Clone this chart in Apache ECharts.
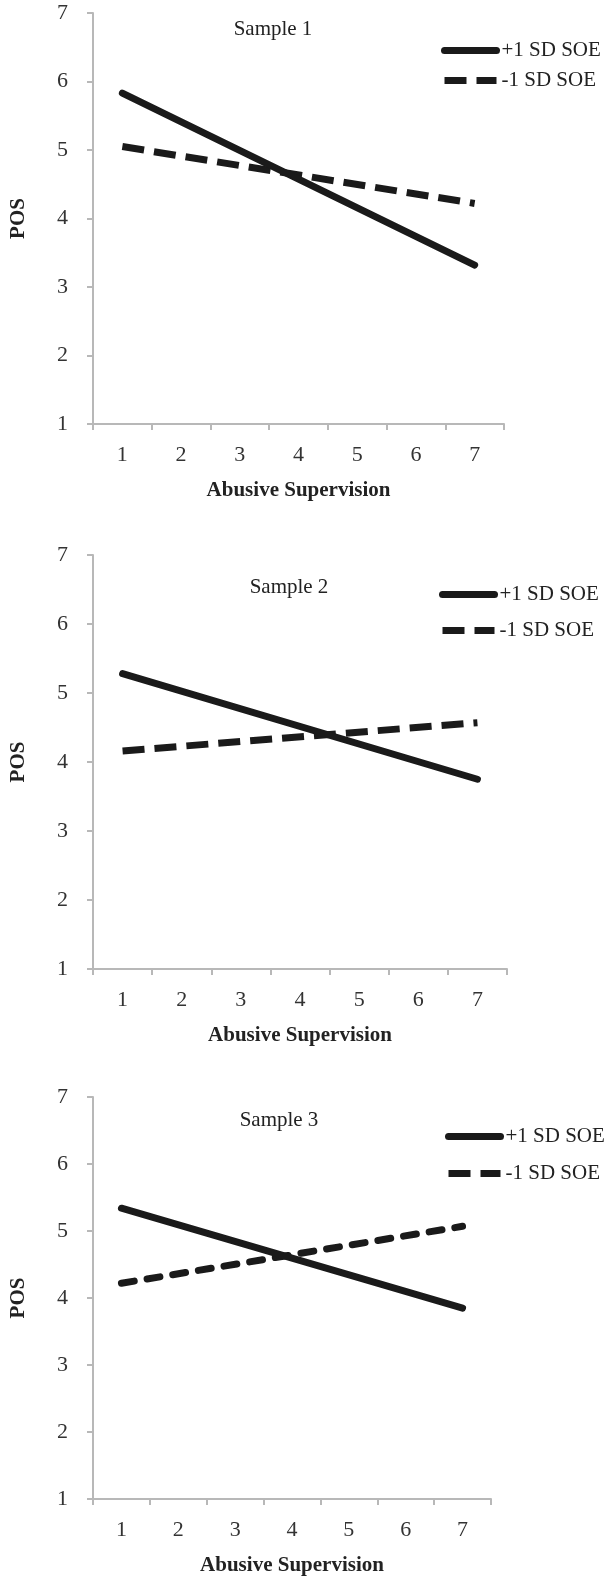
<!DOCTYPE html>
<html>
<head>
<meta charset="utf-8">
<script src="https://cdn.jsdelivr.net/npm/echarts@6/dist/echarts.min.js"></script>
<style>
html,body{margin:0;padding:0;background:#fff;}
#c{width:610px;height:1577px;}
</style>
</head>
<body>
<div id="c"></div>
<script>
// ---- data ----
const categories = ['1','2','3','4','5','6','7'];
const lineEndsX = ['1','7'];
const panelTitles = ['Sample 1','Sample 2','Sample 3'];
const seriesNames = ['+1 SD SOE','-1 SD SOE'];
const plusSOE_s1 = [5.83, 3.32];
const minusSOE_s1 = [5.05, 4.22];
const plusSOE_s2 = [5.28, 3.75];
const minusSOE_s2 = [4.16, 4.57];
const plusSOE_s3 = [5.34, 3.85];
const minusSOE_s3 = [4.22, 5.07];
const xAxisTitle = 'Abusive Supervision';
const yAxisTitle = 'POS';

const panels = [
  {plus: plusSOE_s1, minus: minusSOE_s1},
  {plus: plusSOE_s2, minus: minusSOE_s2},
  {plus: plusSOE_s3, minus: minusSOE_s3}
];

// ---- layout ----
const grids = [
  {left: 89.5, top: 13, width: 414.5, height: 411},
  {left: 91, top: 555, width: 416, height: 414},
  {left: 84, top: 1097, width: 407, height: 409}
];
const titlePos = [{x: 268, y: 14}, {x: 284, y: 572}, {x: 274, y: 1105}];
const legendPos = [{x: 436, y: 35, gap: 9}, {x: 434, y: 579, gap: 15}, {x: 440, y: 1121, gap: 16}];
const dashStyles = [
  {type: [22, 10], cap: 'butt'},
  {type: [22, 10], cap: 'butt'},
  {type: [13, 13], cap: 'round'}
];

const serif = '"Liberation Serif", "DejaVu Serif", serif';
const lineColor = '#1a1a1a';

const option = {
  backgroundColor: '#fff',
  animation: false,
  title: panelTitles.map((t, i) => ({
    text: t,
    left: titlePos[i].x,
    top: titlePos[i].y,
    textAlign: 'center',
    textStyle: {fontFamily: serif, fontSize: 21, fontWeight: 'normal', color: '#222'}
  })),
  legend: panels.map((p, i) => ({
    orient: 'vertical',
    left: legendPos[i].x,
    top: legendPos[i].y,
    itemWidth: 52,
    itemHeight: 22,
    itemGap: legendPos[i].gap,
    selectedMode: false,
    data: seriesNames.map(n => ({name: n})),
    lineStyle: {width: 7},
    itemStyle: {opacity: 0},
    textStyle: {fontFamily: serif, fontSize: 21, color: '#222'}
  })),
  grid: grids.map(g => ({left: g.left, top: g.top, width: g.width, height: g.height, containLabel: false})),
  xAxis: grids.map((g, i) => ({
    type: 'category',
    gridIndex: i,
    data: categories,
    boundaryGap: true,
    name: xAxisTitle,
    nameLocation: 'middle',
    nameGap: 56,
    nameTextStyle: {fontFamily: serif, fontSize: 21, fontWeight: 'bold', color: '#222'},
    axisLine: {lineStyle: {color: '#b8b8b8', width: 2}},
    axisTick: {show: true, alignWithLabel: false, length: 6, lineStyle: {color: '#b8b8b8', width: 2}},
    axisLabel: {fontFamily: serif, fontSize: 22, color: '#333', margin: 20},
    splitLine: {show: false}
  })),
  yAxis: grids.map((g, i) => ({
    type: 'value',
    gridIndex: i,
    min: 1,
    max: 7,
    interval: 1,
    name: yAxisTitle,
    nameLocation: 'middle',
    nameGap: 64,
    nameRotate: 90,
    nameTextStyle: {fontFamily: serif, fontSize: 21, fontWeight: 'bold', color: '#222'},
    axisLine: {show: true, lineStyle: {color: '#b8b8b8', width: 2}},
    axisTick: {show: true, length: 6, lineStyle: {color: '#b8b8b8', width: 2}},
    axisLabel: {fontFamily: serif, fontSize: 22, color: '#333', margin: 25},
    splitLine: {show: false}
  })),
  series: []
};

panels.forEach((p, i) => {
  option.series.push({
    name: seriesNames[0],
    type: 'line',
    xAxisIndex: i,
    yAxisIndex: i,
    data: lineEndsX.map((x, k) => [x, p.plus[k]]),
    showSymbol: false,
    symbol: 'none',
    silent: true,
    z: 3,
    lineStyle: {color: lineColor, width: 7, cap: 'round', type: 'solid'},
    itemStyle: {color: lineColor}
  });
  option.series.push({
    name: seriesNames[1],
    type: 'line',
    xAxisIndex: i,
    yAxisIndex: i,
    data: lineEndsX.map((x, k) => [x, p.minus[k]]),
    showSymbol: false,
    symbol: 'none',
    silent: true,
    z: 2,
    lineStyle: {color: lineColor, width: 7, cap: dashStyles[i].cap, type: dashStyles[i].type},
    itemStyle: {color: lineColor}
  });
});

const chart = echarts.init(document.getElementById('c'), null, {renderer: 'canvas'});
chart.setOption(option);
</script>
</body>
</html>
